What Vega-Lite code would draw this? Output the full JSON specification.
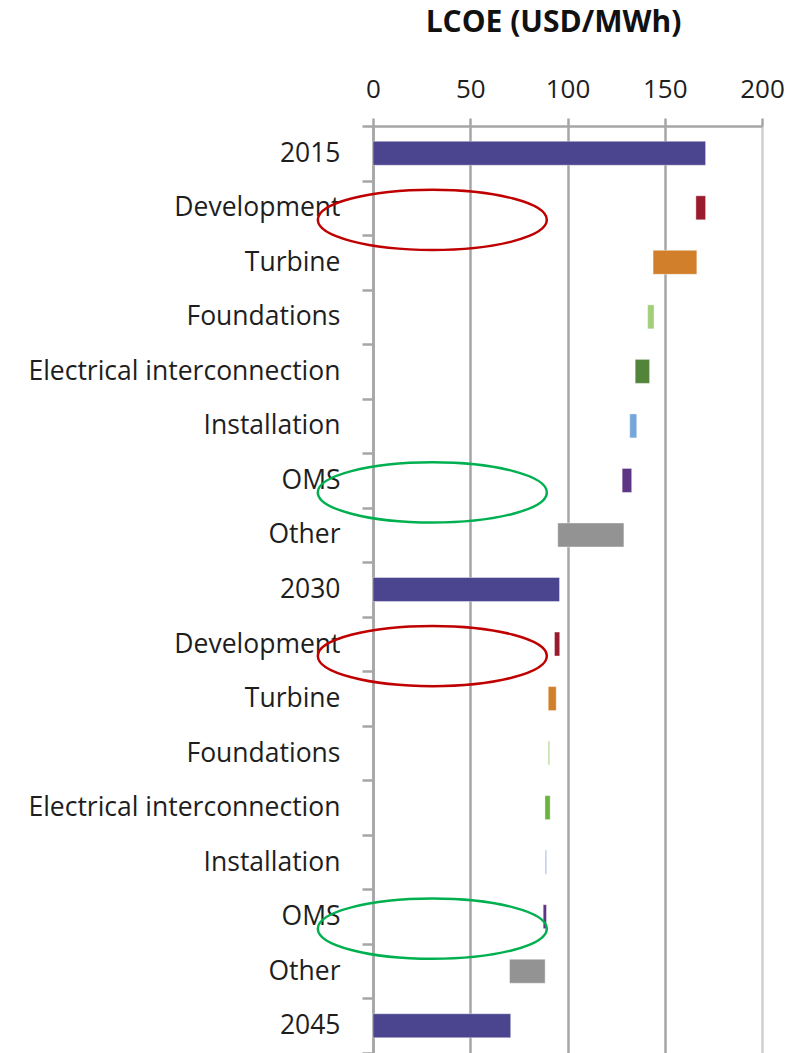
{
  "$schema": "https://vega.github.io/schema/vega-lite/v6.json",
  "width": 389,
  "height": 927,
  "autosize": {"type": "none"},
  "padding": {"left": 373, "top": 126, "right": 24, "bottom": 0},
  "background": "#ffffff",
  "config": {"view": {"stroke": null}, "font": "Open Sans"},
  "datasets": {
    "bars": [
      {"key": "00|2015", "start": 0, "end": 171, "colorKey": "Total"},
      {"key": "01|Development", "start": 166, "end": 171, "colorKey": "Development"},
      {"key": "02|Turbine", "start": 144, "end": 166.5, "colorKey": "Turbine"},
      {"key": "03|Foundations", "start": 141.2, "end": 144.5, "colorKey": "Foundations 2015"},
      {"key": "04|Electrical interconnection", "start": 134.8, "end": 142.2, "colorKey": "Electrical 2015"},
      {"key": "05|Installation", "start": 132, "end": 135.6, "colorKey": "Installation"},
      {"key": "06|OMS", "start": 128.1, "end": 133, "colorKey": "OMS"},
      {"key": "07|Other", "start": 95, "end": 129, "colorKey": "Other"},
      {"key": "08|2030", "start": 0, "end": 95.9, "colorKey": "Total"},
      {"key": "09|Development", "start": 93.3, "end": 96, "colorKey": "Development"},
      {"key": "10|Turbine", "start": 90.1, "end": 94.2, "colorKey": "Turbine"},
      {"key": "11|Foundations", "start": 90, "end": 90.9, "colorKey": "Foundations 2030"},
      {"key": "12|Electrical interconnection", "start": 88.4, "end": 91.1, "colorKey": "Electrical 2030"},
      {"key": "13|Installation", "start": 88.6, "end": 89.2, "colorKey": "Installation"},
      {"key": "14|OMS", "start": 87.5, "end": 89.2, "colorKey": "OMS"},
      {"key": "15|Other", "start": 70.2, "end": 88.5, "colorKey": "Other"},
      {"key": "16|2045", "start": 0, "end": 70.8, "colorKey": "Total"}
    ],
    "rings": [
      {"key": "01|Development", "x": 30.5, "ring": "Development"},
      {"key": "06|OMS", "x": 30.5, "ring": "OMS"},
      {"key": "09|Development", "x": 30.5, "ring": "Development"},
      {"key": "14|OMS", "x": 30.5, "ring": "OMS"}
    ]
  },
  "layer": [
    {
      "data": {"name": "bars"},
      "mark": {"type": "bar", "size": 24, "stroke": "#ffffff", "strokeOpacity": 0.5, "strokeWidth": 0.8},
      "encoding": {
        "y": {
          "field": "key",
          "type": "nominal",
          "sort": null,
          "scale": {"paddingInner": 0, "paddingOuter": 0},
          "axis": {
            "title": null,
            "labelExpr": "split(datum.value, '|')[1]",
            "labelFont": "Open Sans",
            "labelFontSize": 26.5,
            "labelColor": "#1e1e1e",
            "labelLimit": 400,
            "labelPadding": 22,
            "tickBand": "extent",
            "tickSize": 11,
            "tickWidth": 2.5,
            "tickColor": "#a6a6a6",
            "domainColor": "#a6a6a6",
            "domainWidth": 2.5,
            "grid": false
          }
        },
        "x": {
          "field": "start",
          "type": "quantitative",
          "scale": {"domain": [0, 200], "nice": false},
          "axis": {
            "orient": "top",
            "values": [0, 50, 100, 150, 200],
            "title": "LCOE (USD/MWh)",
            "titleFont": "Open Sans",
            "titleFontSize": 30,
            "titleFontWeight": "bold",
            "titleColor": "#111111",
            "titleBaseline": "alphabetic",
            "titleX": 180,
            "titleY": -95,
            "labelFont": "Open Sans",
            "labelFontSize": 26,
            "labelColor": "#1e1e1e",
            "labelBaseline": "alphabetic",
            "labelPadding": 21,
            "labelFlush": false,
            "tickSize": 8,
            "tickWidth": 2.5,
            "tickColor": "#a6a6a6",
            "domainColor": "#a6a6a6",
            "domainWidth": 2.5,
            "grid": true,
            "gridWidth": 2.5,
            "gridColor": {"condition": {"test": "datum.value == 200", "value": "#cfcfcf"}, "value": "#a6a6a6"}
          }
        },
        "x2": {"field": "end"},
        "color": {
          "field": "colorKey",
          "type": "nominal",
          "legend": null,
          "scale": {
            "domain": ["Total", "Development", "Turbine", "Foundations 2015", "Foundations 2030", "Electrical 2015", "Electrical 2030", "Installation", "OMS", "Other"],
            "range": ["#4b4590", "#9b1b2e", "#d27f2c", "#a3cf7a", "#b8dc9a", "#52843a", "#6bb33f", "#76a6da", "#5e3585", "#939393"]
          }
        }
      }
    },
    {
      "data": {"name": "rings"},
      "mark": {
        "type": "point",
        "shape": "M -1 0 A 1 0.263 0 1 0 1 0 A 1 0.263 0 1 0 -1 0 Z",
        "size": 52441,
        "filled": false,
        "strokeWidth": 2.5,
        "opacity": 1,
        "yOffset": 12
      },
      "encoding": {
        "y": {"field": "key", "type": "nominal", "sort": null},
        "x": {"field": "x", "type": "quantitative"},
        "stroke": {
          "field": "ring",
          "type": "nominal",
          "legend": null,
          "scale": {"domain": ["Development", "OMS"], "range": ["#c00000", "#00b050"]}
        }
      }
    }
  ]
}
